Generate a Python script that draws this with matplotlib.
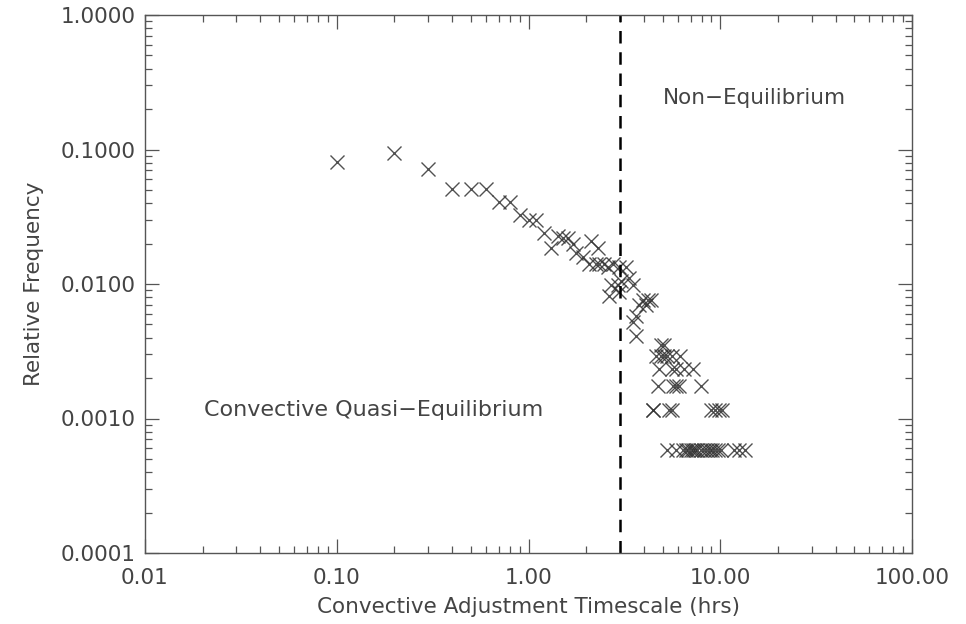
import matplotlib
matplotlib.use("Agg")
import matplotlib.pyplot as plt
import matplotlib.ticker as ticker
import numpy as np

# ── Data (timescale in hrs, event counts) ────────────────────────────────────
# relative frequency = count / total events
total_events = 1715

hrs = [0.10, 0.20, 0.30, 0.40, 0.50, 0.60, 0.70, 0.80, 0.90, 1.00,
       1.10, 1.21, 1.31, 1.42, 1.51, 1.60, 1.70, 1.77, 1.92, 2.08,
       2.12, 2.25, 2.30, 2.34, 2.49, 2.59, 2.64, 2.70, 2.75, 2.93,
       2.98, 2.98, 3.04, 3.23, 3.36, 3.49, 3.49, 3.64, 3.64, 3.78,
       3.94, 4.10, 4.18, 4.37,
       # lower, sparse part
       4.91, 5.11,
       4.60, 4.90, 5.10, 5.30, 5.60, 6.20,
       4.81, 5.60, 5.90, 6.50, 7.20,
       4.71, 5.70, 5.90, 6.10, 7.90,
       4.44, 4.46, 5.40, 5.60, 9.00, 9.40, 9.80, 10.2,
       5.30, 5.90, 6.40, 6.60, 6.80, 7.00, 7.20, 7.40, 7.60, 7.90,
       8.20, 8.50, 8.80, 9.10, 9.40, 9.70, 10.1, 11.8, 12.6, 13.4]

counts = [139, 162, 122, 87, 87, 87, 70, 70, 56, 51,
          51, 41, 32, 39, 38, 38, 34, 29, 27, 24,
          36, 24, 32, 24, 24, 23, 14, 17, 24, 17,
          23, 15, 18, 23, 19, 17, 9, 10, 7, 12,
          13, 12, 13, 13,
          6, 6,
          5, 5, 5, 5, 5, 5,
          4, 4, 4, 4, 4,
          3, 3, 3, 3, 3,
          2, 2, 2, 2, 2, 2, 2, 2,
          1, 1, 1, 1, 1, 1, 1, 1, 1, 1,
          1, 1, 1, 1, 1, 1, 1, 1, 1, 1]

split_hrs = 3.0   # quasi-equilibrium / non-equilibrium boundary

freq = np.array(counts) / total_events

# ── Figure ───────────────────────────────────────────────────────────────────
fig = plt.figure(figsize=(9.66, 6.24), dpi=100, facecolor='white')
ax = fig.add_axes([145 / 966, 71 / 624, 767 / 966, 538 / 624])

ax.plot(hrs, freq, linestyle='none', marker='x', markersize=10,
        markeredgewidth=1.0, color='#333333', alpha=0.85)

ax.axvline(split_hrs, color='black', linewidth=1.8, linestyle=(0, (5, 3.5)))

ax.set_xscale('log')
ax.set_yscale('log')
ax.set_xlim(0.01, 100)
ax.set_ylim(1e-4, 1)

ax.xaxis.set_major_formatter(ticker.FormatStrFormatter('%.2f'))
ax.yaxis.set_major_formatter(ticker.FormatStrFormatter('%.4f'))
ax.xaxis.set_minor_formatter(ticker.NullFormatter())
ax.yaxis.set_minor_formatter(ticker.NullFormatter())

ax.tick_params(which='both', direction='in', top=True, right=True,
               colors='#555555', labelcolor='#444444', labelsize=15.5)
ax.tick_params(which='major', length=10, width=0.9)
ax.tick_params(which='minor', length=5, width=0.9)
ax.tick_params(axis='x', pad=11)
ax.tick_params(axis='y', pad=7)

for sp in ax.spines.values():
    sp.set_color('#555555')
    sp.set_linewidth(1.0)

ax.set_xlabel("Convective Adjustment Timescale (hrs)", fontsize=15.5,
              color='#444444', labelpad=6)
ax.set_ylabel("Relative Frequency", fontsize=15.5, color='#444444', labelpad=12)

ax.text(0.0202, 0.00116, "Convective Quasi\u2212Equilibrium", fontsize=16,
        color='#444444', va='center', ha='left')
ax.text(5.0, 0.24, "Non\u2212Equilibrium", fontsize=15.5,
        color='#444444', va='center', ha='left')

fig.savefig("out.png", dpi=100)
